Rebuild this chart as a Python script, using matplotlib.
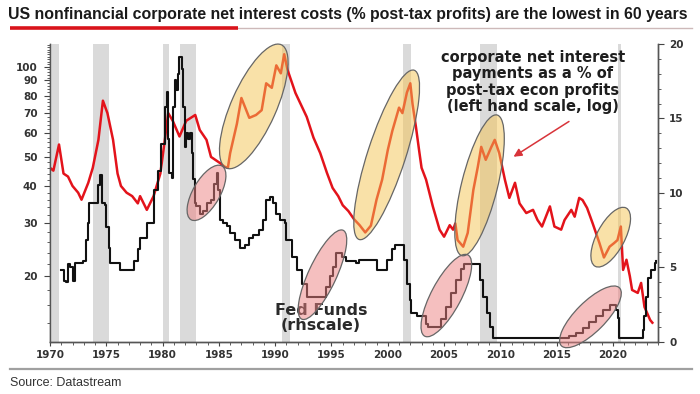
import numpy as np
import matplotlib
matplotlib.use('Agg')
import matplotlib.pyplot as plt
from matplotlib.patches import Ellipse
from matplotlib.lines import Line2D
from matplotlib.transforms import ScaledTranslation
from matplotlib.ticker import FixedLocator, MultipleLocator, NullFormatter

# Corporate net interest as % of post-tax econ profits (left, log scale)
red_years = [1970.0, 1970.3, 1970.8, 1971.2, 1971.6, 1972.0, 1972.5, 1972.8, 1973.4, 1973.8,
             1974.3, 1974.7, 1975.1, 1975.6, 1976.0, 1976.3, 1976.8, 1977.3, 1977.8, 1978.0,
             1978.6, 1979.2, 1979.8, 1980.2, 1980.5, 1980.9, 1981.5, 1982.1, 1982.9, 1983.3,
             1983.9, 1984.3, 1985.1, 1985.5, 1985.8, 1986.0, 1986.6, 1987.0, 1987.7, 1988.3,
             1988.8, 1989.2, 1989.7, 1990.1, 1990.5, 1990.8, 1991.1, 1991.8, 1992.8, 1993.4,
             1994.0, 1994.6, 1995.1, 1995.6, 1996.0, 1996.5, 1997.0, 1997.5, 1998.0, 1998.5,
             1999.0, 1999.5, 2000.0, 2000.4, 2001.0, 2001.3, 2001.7, 2002.0, 2002.2, 2002.5,
             2002.8, 2003.0, 2003.4, 2004.0, 2004.6, 2005.0, 2005.5, 2005.8, 2006.0, 2006.2,
             2006.7, 2007.1, 2007.6, 2008.0, 2008.3, 2008.7, 2009.2, 2009.5, 2009.9, 2010.4,
             2010.8, 2011.3, 2011.7, 2012.3, 2012.9, 2013.3, 2013.7, 2014.4, 2014.8, 2015.4,
             2015.7, 2016.3, 2016.6, 2017.0, 2017.3, 2017.7, 2018.2, 2018.8, 2019.2, 2019.7,
             2020.1, 2020.4, 2020.7, 2020.9, 2021.2, 2021.5, 2021.7, 2022.2, 2022.5, 2022.8,
             2023.3, 2023.5]
red_vals = [46, 45, 55, 44, 43, 40, 38, 36, 41, 46,
            57, 77, 70, 57, 44, 40, 38, 37, 35, 37,
            33.3, 37, 44, 57, 70, 66, 58.5, 66, 69, 61.5,
            57, 50, 47.7, 46.4, 46, 51.5, 64.5, 78.6, 67.5, 69,
            71.6, 88, 85, 101, 95, 110, 97.5, 81.7, 68, 58,
            51.5, 44.2, 39.4, 37, 34.5, 33, 31, 29.6, 28, 29.5,
            36, 42, 52.7, 61, 73, 70, 82, 88, 75, 63,
            52, 46, 42, 34.2, 28.6, 27.1, 29.6, 28.6, 30, 26.4,
            25.1, 27.9, 38.8, 46.4, 54, 48.9, 54, 57, 51.5, 42,
            36.5, 41, 35, 32.5, 33.3, 30.8, 29.3, 34.2, 29.3, 28.6,
            30.8, 33.3, 31.6, 36.5, 35.9, 33.8, 30, 25.8, 23.1, 25.1,
            25.8, 26.4, 29.3, 21, 22.7, 20, 18, 17.6, 19, 15.8,
            14.3, 14.0]

# Fed Funds rate (right scale)
fed_years = [1971.0, 1971.2, 1971.4, 1971.6, 1971.8, 1972.0, 1972.2, 1972.9, 1973.2, 1973.4,
             1973.5, 1974.1, 1974.3, 1974.45, 1974.6, 1974.9, 1975.0, 1975.2, 1975.3, 1975.9,
             1976.2, 1977.0, 1977.5, 1977.8, 1978.0, 1978.6, 1979.2, 1979.6, 1979.9, 1980.2,
             1980.35, 1980.5, 1980.6, 1980.8, 1980.9, 1981.1, 1981.2, 1981.4, 1981.5, 1981.7,
             1981.8, 1982.0, 1982.1, 1982.3, 1982.4, 1982.6, 1982.7, 1982.9, 1983.0, 1983.3,
             1983.6, 1983.9, 1984.3, 1984.6, 1984.8, 1984.9, 1985.1, 1985.4, 1985.7, 1986.0,
             1986.4, 1986.9, 1987.3, 1987.7, 1988.0, 1988.6, 1988.9, 1989.2, 1989.5, 1989.8,
             1990.1, 1990.4, 1990.85, 1991.0, 1991.45, 1991.9, 1992.35, 1992.8, 1993.7, 1994.25,
             1994.55, 1994.85, 1995.1, 1995.4, 1995.9, 1996.3, 1997.2, 1997.4, 1998.7, 1999.0,
             1999.6, 1999.9, 2000.35, 2000.6, 2001.2, 2001.4, 2001.7, 2001.95, 2002.1, 2002.6,
             2003.1, 2003.4, 2003.55, 2004.45, 2004.75, 2005.2, 2005.6, 2006.1, 2006.5, 2006.8,
             2007.9, 2008.2, 2008.5, 2008.8, 2009.05, 2009.35, 2015.9, 2016.1, 2016.7, 2017.3,
             2017.9, 2018.5, 2019.1, 2019.7, 2020.0, 2020.3, 2020.45, 2020.55, 2022.5, 2022.65,
             2022.8, 2022.9, 2023.15, 2023.4, 2023.7, 2023.85]
fed_vals = [4.8, 4.1, 4.0, 5.2, 5.0, 4.1, 5.3, 5.4, 6.8, 8.0,
            9.3, 9.3, 10.5, 11.2, 9.3, 9.2, 7.7, 6.3, 5.3, 5.3,
            4.8, 4.8, 5.4, 6.2, 7.0, 8.0, 10.2, 11.5, 13.3, 15.8,
            16.8, 13.6, 11.3, 11.0, 15.8, 17.6, 16.9, 18.0, 19.1, 18.3,
            15.8, 13.1, 14.0, 13.6, 14.0, 12.7, 10.9, 9.3, 9.1, 8.6,
            8.8, 9.3, 9.5, 10.6, 11.3, 10.2, 8.2, 8.0, 7.8, 7.3,
            6.8, 6.3, 6.5, 7.0, 7.2, 7.5, 8.2, 9.5, 9.75, 9.3,
            8.6, 8.2, 8.0, 6.8, 5.7, 4.8, 3.9, 3.0, 3.0, 3.0,
            3.7, 4.4, 5.0, 5.95, 5.7, 5.4, 5.3, 5.5, 5.5, 4.8,
            4.8, 5.5, 6.2, 6.5, 6.5, 5.5, 3.9, 2.8, 1.9, 1.7,
            1.7, 1.2, 1.0, 1.0, 1.5, 2.35, 3.25, 4.15, 4.9, 5.25,
            5.25, 4.15, 3.0, 1.9, 1.0, 0.25, 0.25, 0.4, 0.56, 0.9,
            1.35, 1.7, 2.1, 2.45, 2.45, 2.1, 1.6, 0.25, 0.25, 0.8,
            1.7, 3.0, 4.3, 4.8, 5.3, 5.4]

# Recession bands (start, end)
recessions = [(1970.15, 1970.8), (1973.85, 1975.25), (1980.0, 1980.6), (1981.55, 1982.95),
              (1990.6, 1991.3), (2001.35, 2002.1), (2008.2, 2009.7), (2020.45, 2020.75)]

left_ticks = [20, 30, 40, 50, 60, 70, 80, 90, 100]
right_ticks = [0, 5, 10, 15, 20]
year_ticks = list(range(1970, 2021, 5))

# highlight ellipses: (year, value, long px, short px, angle)
yellow_marks = [(1988.1, 73.7, 135, 45, 66), (1999.9, 50.8, 178, 38, 72),
                (2008.15, 40.2, 145, 36, 76), (2019.8, 27.0, 66, 28, 62)]
pink_marks = [(1983.9, 10.0, 62, 27, 60), (1994.2, 4.5, 98, 28, 65),
              (2005.2, 3.1, 92, 30, 62), (2018.0, 1.67, 82, 30, 45)]

W, H = 700, 394
fig = plt.figure(figsize=(7, 3.94), dpi=100)
ax = fig.add_axes([50 / W, (H - 341.7) / H, 608 / W, 297.7 / H])
ax2 = ax.twinx()

for a, b in recessions:
    ax.axvspan(a, b, color='#dadada', lw=0, zorder=0)

ax.plot(red_years, red_vals, color='#e3131b', lw=1.8, zorder=3, solid_joinstyle='round')
ax2.plot(fed_years, fed_vals, color='#111111', lw=1.5, drawstyle='steps-post', zorder=3)

ax.set_yscale('log')
ax.set_ylim(12.1, 119)
ax.set_xlim(1970, 2024)
ax2.set_ylim(0, 20)

tick_kw = dict(labelsize=7.5, colors='#444444', labelcolor='#333333')
ax.yaxis.set_major_locator(FixedLocator(left_ticks))
ax.yaxis.set_major_formatter(plt.FuncFormatter(lambda v, p: f'{v:g}'))
ax.yaxis.set_minor_locator(FixedLocator(np.arange(14, 119, 2)))
ax.yaxis.set_minor_formatter(NullFormatter())
ax.tick_params(axis='y', which='major', length=4, pad=5, **tick_kw)
ax.tick_params(axis='y', which='minor', length=2, colors='#444444')

ax.xaxis.set_major_locator(FixedLocator(year_ticks))
ax.xaxis.set_minor_locator(MultipleLocator(1))
ax.tick_params(axis='x', which='major', length=3, pad=3, **tick_kw)
ax.tick_params(axis='x', which='minor', length=2, colors='#444444')

ax2.yaxis.set_major_locator(FixedLocator(right_ticks))
ax2.yaxis.set_minor_locator(MultipleLocator(1))
ax2.tick_params(axis='y', which='major', length=4, pad=4, **tick_kw)
ax2.tick_params(axis='y', which='minor', length=2, colors='#444444')

for lab in ax.get_xticklabels() + ax.get_yticklabels() + ax2.get_yticklabels():
    lab.set_fontweight('bold')

for a in (ax, ax2):
    a.spines['top'].set_visible(False)
    for s in ('left', 'right', 'bottom'):
        a.spines[s].set_color('#555555')
        a.spines[s].set_linewidth(1.0)

# highlight ellipses, centred on data points, sized in pixels
for axis, marks, fc, al in ((ax, yellow_marks, '#f4c452', 0.5), (ax2, pink_marks, '#ec8080', 0.5)):
    for x, y, w, h, ang in marks:
        tr = fig.dpi_scale_trans + ScaledTranslation(x, y, axis.transData)
        e = Ellipse((0, 0), w / 100, h / 100, angle=ang, transform=tr,
                    facecolor=fc, alpha=al, edgecolor='none', zorder=5, clip_on=False)
        fig.add_artist(e)
        e2 = Ellipse((0, 0), w / 100, h / 100, angle=ang, transform=tr,
                     facecolor='none', edgecolor='#666666', lw=0.9, zorder=6, clip_on=False)
        fig.add_artist(e2)

ax.text(2012.9, 88.9, 'corporate net interest\npayments as a % of\npost-tax econ profits\n(left hand scale, log)',
        ha='center', va='center', fontsize=10.5, fontweight='bold', color='#1e1e1e',
        linespacing=1.1, zorder=7)
ax.annotate('', xy=(2010.96, 49.5), xytext=(2016.3, 66.4),
            arrowprops=dict(arrowstyle='-|>', color='#d8343a', lw=1.1, mutation_scale=12), zorder=7)
ax2.text(1994.05, 1.6, 'Fed Funds\n(rhscale)', ha='center', va='center', fontsize=11.5,
         fontweight='bold', color='#2a2a2a', linespacing=1.0, zorder=7)

# title and decorations
fig.text(8 / W, 1 - 14 / H,
         'US nonfinancial corporate net interest costs (% post-tax profits) are the lowest in 60 years',
         fontsize=11.4, fontweight='bold', color='#1a1a1a', va='center', ha='left',
         family=['Liberation Sans', 'DejaVu Sans'])
fig.add_artist(Line2D([238 / W, 692 / W], [1 - 28 / H] * 2, color='#cdb9b9', lw=1.0))
fig.add_artist(Line2D([10 / W, 238 / W], [1 - 28 / H] * 2, color='#d9141b', lw=2.6,
                      solid_capstyle='butt'))
fig.add_artist(Line2D([10 / W, 692 / W], [1 - 369 / H] * 2, color='#a0a0a0', lw=1.6))
fig.text(10 / W, 1 - 383 / H, 'Source: Datastream', fontsize=9, color='#333333',
         va='center', ha='left', family=['Liberation Sans', 'DejaVu Sans'])

fig.savefig('out.png', dpi=100)
